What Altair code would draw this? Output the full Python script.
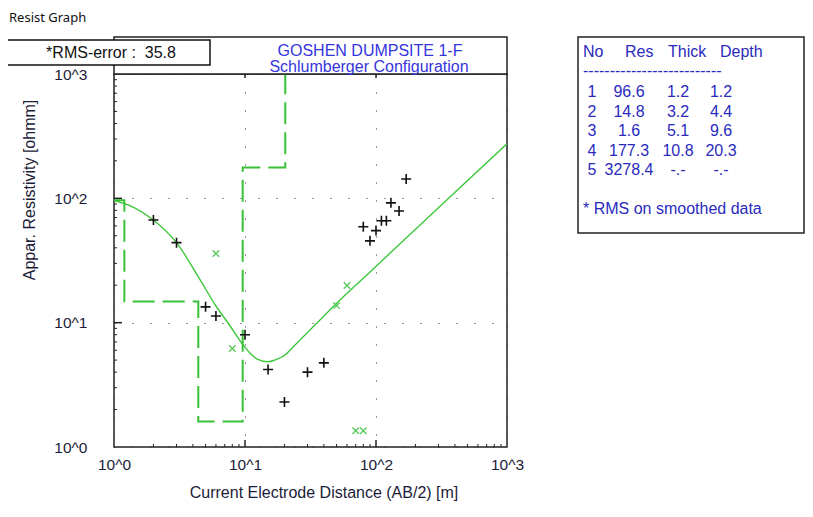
import altair as alt
import pandas as pd

# ---------------- data ----------------
# observed field data (black "+")
obs_ab2 = [2, 3, 5, 6, 10, 15, 20, 30, 40, 80, 90, 100, 110, 120, 130, 150, 170]
obs_rho = [67, 44, 13.4, 11.3, 8.0, 4.2, 2.3, 4.0, 4.75, 59, 45.5, 55, 66, 66, 92, 79, 143]

# flagged / smoothed points (green "x")
flag_ab2 = [6, 8, 50, 60, 70, 80]
flag_rho = [36, 6.2, 13.7, 19.9, 1.35, 1.35]

# calculated model curve (green line)
curve_ab2 = [1, 1.4, 2, 3, 4.5, 5.9, 7.7, 9.5, 10.9, 12.4, 15, 16.9, 20.2, 24.1, 28.7, 38.7, 50, 90, 282, 1000]
curve_rho = [96, 85, 67, 44, 22.5, 14, 9.4, 6.8, 5.7, 5.1, 4.85, 5.0, 5.5, 6.6, 7.96, 10.9, 14.3, 25.6, 79, 275]

# layered model table
layer_no = [1, 2, 3, 4, 5]
layer_res = [96.6, 14.8, 1.6, 177.3, 3278.4]
layer_thick = [1.2, 3.2, 5.1, 10.8, None]
layer_depth = [1.2, 4.4, 9.6, 20.3, None]

rms_error = 35.8
title_lines = ["GOSHEN DUMPSITE 1-F", "Schlumberger Configuration"]
window_title = "Resist Graph"
x_title = "Current Electrode Distance (AB/2) [m]"
y_title = "Appar. Resistivity [ohmm]"
table_header = ["No", "Res", "Thick", "Depth"]
table_note = "* RMS on smoothed data"

decades = [1, 10, 100, 1000]
major_inner = [10, 100]
minor_ticks = [m * d for d in [1, 10, 100] for m in range(2, 10)]

# ---------------- layout / style ----------------
W, H = 393, 373
PAD_L, PAD_T, PAD_B = 106, 66, 56
PAD_R = 797 - PAD_L - W
FONT = "Liberation Sans"
GREEN_LINE = "#3ec83e"
GREEN_STEP = "#38c038"
GREEN_X = "#55c855"
BLUE_TITLE = "#3535dc"
BLUE_TABLE = "#2a2abc"
DARK = "#1c1c38"
NB = "\u00a0"

xscale = alt.Scale(type="log", domain=[1, 1000], nice=False)
yscale = alt.Scale(type="log", domain=[1, 1000], nice=False)
label_expr = "'10^' + round(log(datum.value) / LN10)"

x_axis = alt.Axis(values=decades, labelExpr=label_expr, ticks=False, tickSize=0, domain=False,
                  grid=True, gridDash=[1, 17], gridColor="#333", gridOpacity=1, gridWidth=1,
                  labelFont=FONT, labelFontSize=15.5, labelColor=DARK, labelPadding=10,
                  labelFlush=False, labelOverlap=False, title=None)
y_axis = alt.Axis(values=decades, labelExpr=label_expr, ticks=False, tickSize=0, domain=False,
                  grid=True, gridDash=[1, 17], gridColor="#333", gridOpacity=1, gridWidth=1,
                  labelFont=FONT, labelFontSize=15.5, labelColor=DARK, labelPadding=27,
                  labelFlush=False, labelOverlap=False, title=None)

one = pd.DataFrame({"k": [0]})


def txt(text, x, y, **kw):
    return alt.Chart(one).mark_text(text=text, **kw).encode(x=alt.value(x), y=alt.value(y))


def box(x, x2, y, y2, **kw):
    return alt.Chart(one).mark_rect(**kw).encode(
        x=alt.value(x), x2=alt.value(x2), y=alt.value(y), y2=alt.value(y2)
    )


def X(field):
    return alt.X(field, scale=xscale, axis=x_axis)


def Y(field):
    return alt.Y(field, scale=yscale, axis=y_axis)


# step (layer model) path built from the table
step_x, step_y = [1], [layer_res[0]]
for i in range(len(layer_res) - 1):
    d = layer_depth[i]
    step_x += [d, d]
    step_y += [layer_res[i], layer_res[i + 1]]
step_x.append(1000)
step_y.append(layer_res[-1])
step_df = pd.DataFrame({"ab2": step_x, "rho": step_y, "i": range(len(step_x))})

obs_df = pd.DataFrame({"ab2": obs_ab2, "rho": obs_rho})
flag_df = pd.DataFrame({"ab2": flag_ab2, "rho": flag_rho})
curve_df = pd.DataFrame({"ab2": curve_ab2, "rho": curve_rho})

base_curve = alt.Chart(curve_df).mark_line(color=GREEN_LINE, strokeWidth=1.4, interpolate="monotone", clip=True).encode(
    x=X("ab2:Q"), y=Y("rho:Q"))

step = alt.Chart(step_df).mark_line(color=GREEN_STEP, strokeWidth=2, strokeDash=[22, 8], clip=True).encode(
    x=X("ab2:Q"), y=Y("rho:Q"), order=alt.Order("i:Q"))

plus_path = "M-1,0L1,0M0,-1L0,1"
x_path = "M-1,-1L1,1M-1,1L1,-1"

obs = alt.Chart(obs_df).mark_point(shape=plus_path, size=100, filled=False, color="#111", strokeWidth=1.6, opacity=1).encode(
    x=X("ab2:Q"), y=Y("rho:Q"))
flag = alt.Chart(flag_df).mark_point(shape=x_path, size=42, filled=False, color=GREEN_X, strokeWidth=1.3, opacity=1).encode(
    x=X("ab2:Q"), y=Y("rho:Q"))

# inner tick marks
minor_df = pd.DataFrame({"ab2": minor_ticks, "rho": minor_ticks})
major_df = pd.DataFrame({"ab2": major_inner, "rho": major_inner})
tick_color = "#222"
x_minor = alt.Chart(minor_df).mark_rule(color=tick_color, strokeWidth=1).encode(
    x=X("ab2:Q"), y=alt.value(H), y2=alt.value(H - 3))
x_major = alt.Chart(major_df).mark_rule(color=tick_color, strokeWidth=1.5).encode(
    x=X("ab2:Q"), y=alt.value(H), y2=alt.value(H - 7))
x_top = alt.Chart(major_df).mark_rule(color=tick_color, strokeWidth=1.5).encode(
    x=X("ab2:Q"), y=alt.value(0), y2=alt.value(4))
y_minor = alt.Chart(minor_df).mark_rule(color=tick_color, strokeWidth=1).encode(
    y=Y("rho:Q"), x=alt.value(0), x2=alt.value(3))
y_major = alt.Chart(major_df).mark_rule(color=tick_color, strokeWidth=1.5).encode(
    y=Y("rho:Q"), x=alt.value(0), x2=alt.value(8))

# decorations outside the plot area
win_title = txt(window_title, -105, -56, font="Noto Sans", fontSize=13, color="#111", align="left", baseline="middle")
band = box(0, W, -37, 0, fill="white", stroke="#222", strokeWidth=1.5)
title1 = txt(title_lines[0], 256, -23, font=FONT, fontSize=16, color=BLUE_TITLE, align="center", baseline="middle")
title2 = txt(title_lines[1], 255, -7, font=FONT, fontSize=16, color=BLUE_TITLE, align="center", baseline="middle")
rms_box = box(-110, 96, -34, -9, fill="white", stroke="#111", strokeWidth=1.5)
rms_txt = txt(f"*RMS-error :{NB}{NB}{rms_error}", -3, -21.5, font=FONT, fontSize=16, color="#111",
              align="center", baseline="middle")

xt = txt(x_title, 210, 419, font=FONT, fontSize=16, color=DARK, align="center", baseline="middle")
yt = txt(y_title, -84, 116, font=FONT, fontSize=16, color=DARK, align="center", baseline="middle", angle=270)

# table panel
tbl_box = box(464, 690, -37, 159, fill="white", stroke="#222", strokeWidth=1.5)
hdr_x = [469, 511, 554, 606]
hdr = [txt(h, hx, -22, font=FONT, fontSize=16, color=BLUE_TABLE, align="left", baseline="middle")
       for h, hx in zip(table_header, hdr_x)]
dashes = txt("-" * 26, 469, -3, font=FONT, fontSize=16, color=BLUE_TABLE, align="left", baseline="middle")


def fmt(v):
    return "-.-" if v is None else f"{v:.1f}"


col_kw = dict(font=FONT, fontSize=16, color=BLUE_TABLE, align="center", baseline="alphabetic", lineHeight=19.5)
col_no = txt([str(n) for n in layer_no], 478, 23, **col_kw)
col_res = txt([fmt(v) for v in layer_res], 515, 23, **col_kw)
col_thick = txt([fmt(v) for v in layer_thick], 564, 23, **col_kw)
col_depth = txt([fmt(v) for v in layer_depth], 607, 23, **col_kw)
note = txt(table_note, 469, 135, font=FONT, fontSize=16, color=BLUE_TABLE, align="left", baseline="middle")

chart = alt.layer(
    base_curve, step, x_minor, x_major, x_top, y_minor, y_major, obs, flag,
    win_title, band, title1, title2, rms_box, rms_txt, xt, yt,
    tbl_box, *hdr, dashes, col_no, col_res, col_thick, col_depth, note,
).properties(
    width=W, height=H, background="white",
    autosize=alt.AutoSizeParams(type="none"),
    padding={"left": PAD_L, "top": PAD_T, "right": PAD_R, "bottom": PAD_B},
).configure_view(stroke="#222", strokeWidth=1.5)

chart.save("out.html", embed_options={"renderer": "svg", "actions": False})
